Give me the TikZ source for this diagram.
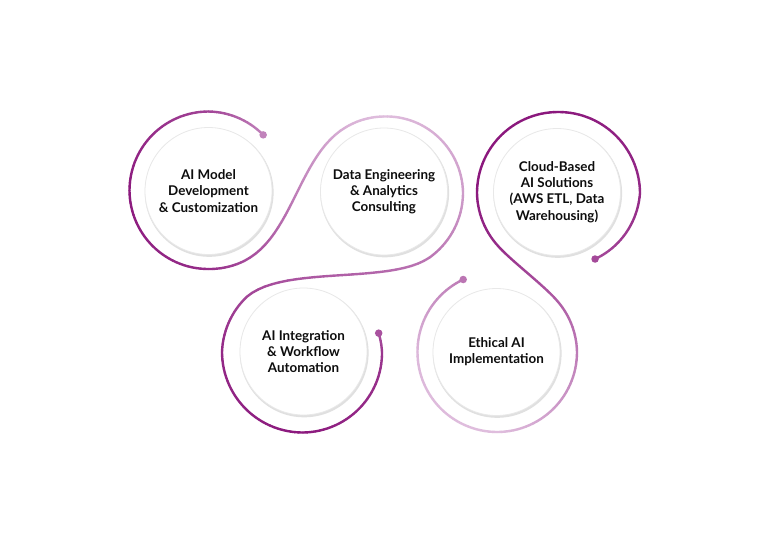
\documentclass[tikz,border=0pt]{standalone}
\usepackage{fontspec}
\setmainfont{Lato}
\usetikzlibrary{calc,shadows}
\definecolor{pd}{RGB}{139,24,125}
\definecolor{pl}{RGB}{238,218,238}
\tikzset{
  seg/.style={line width=2.4pt, line cap=round},
  disc/.style={circle, minimum size=127pt, inner sep=0pt, fill=white, draw=black!9, line width=0.8pt,
    drop shadow={shadow xshift=0.7pt, shadow yshift=-1.4pt, shadow scale=1.014, fill=black!12, opacity=1}},
  txt/.style={font=\bfseries\fontsize{13.4}{16.2}\selectfont, align=center, text=black!95},
  dotmark/.style={circle, inner sep=0pt, minimum size=7.5pt},
}
\newcommand\arcgrad[7]{%
  \pgfmathtruncatemacro\nseg{max(2,round(abs(#3-#2)/3))}%
  \foreach \i in {1,...,\nseg}{%
    \pgfmathsetmacro\ta{(\i-1)/\nseg}%
    \pgfmathsetmacro\tb{\i/\nseg}%
    \pgfmathsetmacro\aa{#2+(#3-#2)*\ta}%
    \pgfmathsetmacro\ab{#2+(#3-#2)*\tb}%
    \pgfmathsetmacro\ra{#4+(#5-#4)*\ta}%
    \pgfmathsetmacro\rb{#4+(#5-#4)*\tb}%
    \pgfmathtruncatemacro\pc{#6+(#7-#6)*(\ta+\tb)/2}%
    \draw[seg, pd!\pc!pl] ($(#1)+(\aa:\ra)$) -- ($(#1)+(\ab:\rb)$);%
  }%
}
\newcommand\bezgrad[6]{%
  \foreach \i in {1,...,24}{%
    \pgfmathsetmacro\ta{(\i-1)/24}%
    \pgfmathsetmacro\tb{\i/24}%
    \pgfmathsetmacro\ka{(1-\ta)^3}%
    \pgfmathsetmacro\kb{3*(1-\ta)^2*\ta}%
    \pgfmathsetmacro\kc{3*(1-\ta)*\ta^2}%
    \pgfmathsetmacro\kd{\ta^3}%
    \pgfmathsetmacro\la{(1-\tb)^3}%
    \pgfmathsetmacro\lb{3*(1-\tb)^2*\tb}%
    \pgfmathsetmacro\lc{3*(1-\tb)*\tb^2}%
    \pgfmathsetmacro\ld{\tb^3}%
    \pgfmathtruncatemacro\pc{#5+(#6-#5)*(\ta+\tb)/2}%
    \draw[seg, pd!\pc!pl] ($\ka*(#1)+\kb*(#2)+\kc*(#3)+\kd*(#4)$) -- ($\la*(#1)+\lb*(#2)+\lc*(#3)+\ld*(#4)$);%
  }%
}
\begin{document}
\begin{tikzpicture}[x=1pt,y=1pt]
\useasboundingbox (0,0) rectangle (768,-558);
\fill[white] (0,0) rectangle (768,-558);
% centres of the rings
\coordinate (C1) at (208.5,-190.5);
\coordinate (C2) at (383.5,-191.5);
\coordinate (C3) at (558,-193);
\coordinate (C4) at (303,-352);
\coordinate (C5) at (497,-352);
% inner discs with texts
\node[disc] (n1) at (208.5,-191) {};
\node[disc] (n2) at (384,-191.5) {};
\node[disc] (n3) at (557,-192) {};
\node[disc] (n4) at (303.5,-351.5) {};
\node[disc] (n5) at (496.5,-352) {};
\node[txt] (t1) at (n1) {AI Model\\Development\\\& Customization};
\node[txt] (t2) at (n2) {Data Engineering\\\& Analytics\\Consulting};
\node[txt] (t3) at (n3) {Cloud-Based\\AI Solutions\\(AWS ETL, Data\\Warehousing)};
\node[txt] (t4) at (n4) {AI Integration\\\& Workflow\\Automation};
\node[txt] (t5) at (n5) {Ethical AI\\Implementation};
% control points of the S-curves
\coordinate (A0) at ($(C1)+(-63:79)$);
\coordinate (A1) at ($(A0)+(27:55)$);
\coordinate (A3) at ($(C2)+(120:74.5)$);
\coordinate (A2) at ($(A3)+(210:55)$);
\coordinate (B0) at ($(C2)+(-55:80.5)$);
\coordinate (B1) at ($(B0)+(-145:50)$);
\coordinate (B3) at ($(C4)+(140:79)$);
\coordinate (B2) at ($(B3)+(50:50)$);
\coordinate (D0) at ($(C3)+(222:80)$);
\coordinate (D1) at ($(D0)+(-48:20)$);
\coordinate (D3) at ($(C5)+(40:79)$);
\coordinate (D2) at ($(D3)+(130:20)$);
% path 1
\arcgrad{C1}{45.5}{90}{78}{79}{45}{78}
\arcgrad{C1}{90}{180}{79}{79}{78}{100}
\arcgrad{C1}{180}{270}{79}{78.5}{100}{90}
\arcgrad{C1}{270}{297}{78.5}{79}{90}{75}
\bezgrad{A0}{A1}{A2}{A3}{75}{22}
\arcgrad{C2}{120}{90}{74.5}{75}{22}{15}
\arcgrad{C2}{90}{0}{75}{79.5}{15}{32}
\arcgrad{C2}{0}{-55}{79.5}{80.5}{32}{52}
\bezgrad{B0}{B1}{B2}{B3}{52}{78}
\arcgrad{C4}{140}{180}{79}{81}{78}{92}
\arcgrad{C4}{180}{270}{81}{80.5}{92}{100}
\arcgrad{C4}{270}{360}{80.5}{79}{100}{85}
\arcgrad{C4}{360}{374}{79}{78}{85}{70}
% path 2
\arcgrad{C3}{-60.7}{0}{75.7}{82}{75}{92}
\arcgrad{C3}{0}{90}{82}{81}{92}{100}
\arcgrad{C3}{90}{180}{81}{81}{100}{100}
\arcgrad{C3}{180}{222}{81}{80}{100}{90}
\bezgrad{D0}{D1}{D2}{D3}{90}{65}
\arcgrad{C5}{40}{0}{79}{80}{65}{50}
\arcgrad{C5}{0}{-90}{80}{80}{50}{15}
\arcgrad{C5}{-90}{-180}{80}{79.5}{15}{18}
\arcgrad{C5}{-180}{-245}{79.5}{80}{18}{50}
% end dots
\node[dotmark, fill=pd!45!pl] (d1) at ($(C1)+(45.5:78)$) {};
\node[dotmark, fill=pd!70!pl] (d2) at ($(C4)+(374:78)$) {};
\node[dotmark, fill=pd!75!pl] (d3) at ($(C3)+(-60.7:75.7)$) {};
\node[dotmark, fill=pd!52!pl] (d4) at ($(C5)+(-245:80)$) {};
\end{tikzpicture}
\end{document}
